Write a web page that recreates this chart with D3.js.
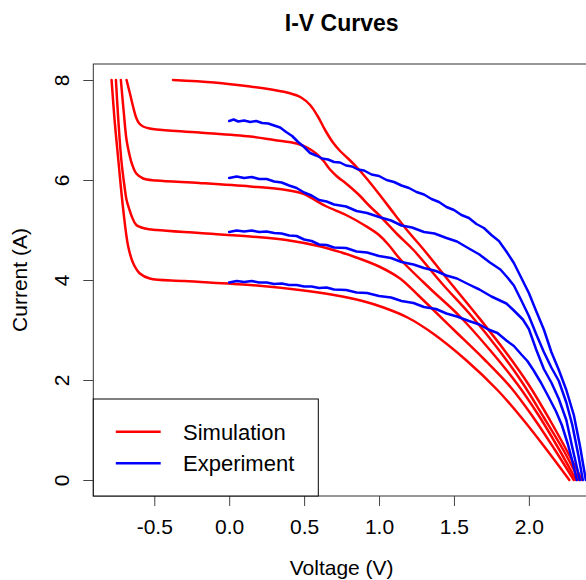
<!DOCTYPE html>
<html><head><meta charset="utf-8">
<script src="https://cdn.jsdelivr.net/npm/d3@7"></script>
<style>
html,body{margin:0;padding:0;background:#fff;}
svg{display:block;font-family:"Liberation Sans",Arial,Helvetica,sans-serif;}
</style></head>
<body>
<svg id="chart" width="586" height="580"></svg>
<script>
// ---- data (Voltage V, Current A) ----
const title = "I-V Curves";
const xLabel = "Voltage (V)";
const yLabel = "Current (A)";
const xTicks = [-0.5, 0.0, 0.5, 1.0, 1.5, 2.0];
const yTicks = [0, 2, 4, 6, 8];
const legendLabels = ["Simulation", "Experiment"];

const sim8 = [[-0.375,8.0],[-0.1,7.95],[0.14,7.87],[0.3,7.8],[0.4,7.74],[0.48,7.65],[0.54,7.5],[0.59,7.28],[0.64,7.0],[0.69,6.76],[0.74,6.58],[0.79,6.44],[0.85,6.26],[0.92,6.02],[1.0,5.72],[1.1,5.33],[1.2,4.95],[1.3,4.6],[1.48,3.93],[1.66,3.27],[1.84,2.58],[2.0,1.9],[2.14,1.2],[2.26,0.55],[2.355,0]];
const sim7 = [[-0.685,8.0],[-0.66,7.7],[-0.64,7.45],[-0.62,7.24],[-0.6,7.13],[-0.574,7.07],[-0.53,7.03],[-0.485,7.01],[-0.2,6.95],[0.14,6.87],[0.3,6.8],[0.45,6.73],[0.52,6.65],[0.58,6.53],[0.63,6.38],[0.67,6.22],[0.72,6.07],[0.78,5.93],[0.86,5.72],[0.94,5.47],[1.0,5.3],[1.12,4.92],[1.23,4.6],[1.42,3.93],[1.62,3.27],[1.8,2.6],[1.96,1.93],[2.1,1.25],[2.23,0.6],[2.335,0]];
const sim6 = [[-0.723,8.0],[-0.705,7.4],[-0.685,6.8],[-0.665,6.5],[-0.65,6.33],[-0.62,6.13],[-0.574,6.03],[-0.485,5.99],[-0.2,5.94],[0.14,5.87],[0.38,5.8],[0.5,5.72],[0.56,5.62],[0.65,5.47],[0.78,5.3],[0.9,5.1],[1.0,4.9],[1.07,4.68],[1.14,4.42],[1.34,3.83],[1.54,3.27],[1.74,2.6],[1.92,1.93],[2.07,1.27],[2.2,0.62],[2.315,0]];
const sim5 = [[-0.756,8.0],[-0.74,7.2],[-0.72,6.4],[-0.7,5.9],[-0.685,5.6],[-0.665,5.4],[-0.65,5.27],[-0.62,5.1],[-0.56,5.03],[-0.485,5.0],[-0.2,4.94],[0.14,4.87],[0.38,4.8],[0.61,4.67],[0.75,4.55],[0.83,4.47],[1.0,4.27],[1.14,4.03],[1.27,3.67],[1.5,3.0],[1.7,2.42],[1.88,1.85],[2.03,1.25],[2.17,0.62],[2.3,0]];
const sim4 = [[-0.785,8.0],[-0.765,7.2],[-0.74,6.4],[-0.707,5.4],[-0.674,4.67],[-0.64,4.33],[-0.596,4.13],[-0.53,4.03],[-0.3,3.98],[0.14,3.9],[0.47,3.8],[0.7,3.7],[0.89,3.58],[1.03,3.45],[1.19,3.25],[1.36,2.93],[1.58,2.4],[1.79,1.8],[1.95,1.25],[2.1,0.68],[2.27,0]];

const exp7 = [[0.0,7.18],[0.03,7.21],[0.06,7.17],[0.1,7.19],[0.14,7.16],[0.18,7.18],[0.22,7.14],[0.26,7.13],[0.3,7.09],[0.34,7.05],[0.38,6.96],[0.42,6.88],[0.46,6.76],[0.5,6.66],[0.54,6.54],[0.58,6.49],[0.62,6.43],[0.66,6.41],[0.7,6.36],[0.74,6.35],[0.78,6.29],[0.82,6.27],[0.86,6.21],[0.9,6.19],[0.95,6.11],[1.0,6.08],[1.05,6.0],[1.1,5.96],[1.15,5.89],[1.2,5.84],[1.25,5.76],[1.3,5.71],[1.35,5.62],[1.4,5.56],[1.45,5.46],[1.5,5.4],[1.55,5.3],[1.6,5.24],[1.65,5.12],[1.7,5.04],[1.75,4.9],[1.8,4.78],[1.85,4.57],[1.9,4.34],[1.95,4.04],[2.0,3.74],[2.05,3.37],[2.1,3.01],[2.15,2.56],[2.2,2.2],[2.25,1.8],[2.3,1.3],[2.34,0.7],[2.38,0]];
const exp6 = [[0.0,6.04],[0.05,6.07],[0.1,6.04],[0.15,6.06],[0.2,6.02],[0.25,6.02],[0.3,5.97],[0.35,5.95],[0.4,5.89],[0.45,5.84],[0.5,5.75],[0.55,5.69],[0.6,5.6],[0.65,5.57],[0.7,5.51],[0.78,5.47],[0.85,5.38],[0.92,5.34],[1.0,5.26],[1.08,5.19],[1.15,5.09],[1.22,5.05],[1.3,4.96],[1.37,4.93],[1.45,4.84],[1.52,4.77],[1.6,4.63],[1.67,4.51],[1.74,4.35],[1.81,4.21],[1.86,4.04],[1.9,3.89],[1.95,3.59],[2.0,3.28],[2.05,2.91],[2.1,2.56],[2.15,2.25],[2.2,1.98],[2.25,1.55],[2.29,1.1],[2.33,0.5],[2.36,0]];
const exp5 = [[0.0,4.96],[0.05,4.99],[0.1,4.97],[0.15,4.99],[0.2,4.96],[0.25,4.97],[0.3,4.94],[0.35,4.93],[0.4,4.89],[0.45,4.88],[0.5,4.81],[0.55,4.78],[0.6,4.71],[0.65,4.7],[0.7,4.65],[0.78,4.64],[0.85,4.57],[0.92,4.55],[1.0,4.48],[1.08,4.44],[1.15,4.36],[1.23,4.31],[1.3,4.24],[1.38,4.18],[1.45,4.09],[1.52,4.03],[1.6,3.91],[1.67,3.81],[1.75,3.67],[1.85,3.53],[1.9,3.39],[1.96,3.21],[2.0,3.02],[2.05,2.6],[2.1,2.22],[2.15,1.95],[2.2,1.62],[2.25,1.2],[2.29,0.65],[2.34,0]];
const exp4 = [[0.0,3.95],[0.05,3.98],[0.1,3.96],[0.15,3.98],[0.2,3.95],[0.25,3.95],[0.3,3.92],[0.35,3.93],[0.4,3.9],[0.45,3.9],[0.5,3.87],[0.55,3.87],[0.6,3.84],[0.65,3.85],[0.7,3.81],[0.78,3.8],[0.85,3.75],[0.92,3.74],[1.0,3.68],[1.08,3.65],[1.15,3.58],[1.23,3.54],[1.3,3.46],[1.38,3.42],[1.45,3.33],[1.52,3.27],[1.6,3.18],[1.67,3.11],[1.73,3.01],[1.79,2.94],[1.85,2.79],[1.9,2.68],[1.95,2.51],[1.99,2.38],[2.03,2.2],[2.08,1.95],[2.13,1.67],[2.18,1.38],[2.22,1.1],[2.26,0.72],[2.29,0.38],[2.32,0]];

const simSeries = [sim8, sim7, sim6, sim5, sim4];
const expSeries = [exp7, exp6, exp5, exp4];

// ---- layout ----
const svg = d3.select("#chart");
const W = 586, H = 580;
const plot = {left: 93.3, right: 590, top: 64, bottom: 496};
const x = d3.scaleLinear().domain([-0.907, 2.408]).range([plot.left, plot.right]);
const y = d3.scaleLinear().domain([-0.32, 8.32]).range([plot.bottom, plot.top]);

svg.append("rect").attr("width", W).attr("height", H).attr("fill", "#fff");

svg.append("defs").append("clipPath").attr("id", "clip")
  .append("rect").attr("x", plot.left).attr("y", plot.top)
  .attr("width", plot.right - plot.left).attr("height", plot.bottom - plot.top);

// curves
const g = svg.append("g").attr("clip-path", "url(#clip)");
const simLine = d3.line().x(d => x(d[0])).y(d => y(d[1])).curve(d3.curveCatmullRom.alpha(0.5));
const expLine = d3.line().x(d => x(d[0])).y(d => y(d[1])).curve(d3.curveLinear);

g.selectAll(".sim").data(simSeries).join("path").attr("class", "sim")
  .attr("d", simLine).attr("fill", "none").attr("stroke", "#ff0000")
  .attr("stroke-width", 2.5).attr("stroke-linejoin", "round").attr("stroke-linecap", "round");
g.selectAll(".exp").data(expSeries).join("path").attr("class", "exp")
  .attr("d", expLine).attr("fill", "none").attr("stroke", "#0000ff")
  .attr("stroke-width", 2.5).attr("stroke-linejoin", "round").attr("stroke-linecap", "round");

// box
svg.append("rect").attr("x", plot.left).attr("y", plot.top)
  .attr("width", plot.right - plot.left).attr("height", plot.bottom - plot.top)
  .attr("fill", "none").attr("stroke", "#333").attr("stroke-width", 1);

// axes
const xAxis = svg.append("g").attr("transform", `translate(0,${plot.bottom})`)
  .call(d3.axisBottom(x).tickValues(xTicks).tickFormat(d3.format(".1f")).tickSize(10).tickPadding(13));
xAxis.select(".domain").remove();
xAxis.selectAll("line").attr("stroke", "#444");
xAxis.selectAll("text").attr("font-size", 21).attr("fill", "#000")
  .attr("font-family", '"Liberation Sans",Arial,sans-serif').text(d => d3.format(".1f")(d).replace("−", "-"));

const yAxis = svg.append("g").attr("transform", `translate(${plot.left},0)`)
  .call(d3.axisLeft(y).tickValues(yTicks).tickFormat(d3.format("d")).tickSize(10));
yAxis.select(".domain").remove();
yAxis.selectAll("line").attr("stroke", "#444");
yAxis.selectAll("text").attr("font-size", 21).attr("fill", "#000")
  .attr("font-family", '"Liberation Sans",Arial,sans-serif')
  .attr("transform", "rotate(-90)").attr("x", 0).attr("y", -24.5).attr("dy", 0)
  .attr("text-anchor", "middle");

// titles
svg.append("text").attr("x", (plot.left + plot.right) / 2).attr("y", 31)
  .attr("text-anchor", "middle").attr("font-size", 23).attr("font-weight", "bold").text(title);
svg.append("text").attr("x", (plot.left + plot.right) / 2).attr("y", 575)
  .attr("text-anchor", "middle").attr("font-size", 21).text(xLabel);
svg.append("text").attr("transform", `translate(27,${(plot.top + plot.bottom) / 2}) rotate(-90)`)
  .attr("text-anchor", "middle").attr("font-size", 21).text(yLabel);

// legend
const leg = svg.append("g");
leg.append("rect").attr("x", plot.left).attr("y", 399).attr("width", 318.3 - plot.left)
  .attr("height", plot.bottom - 399).attr("fill", "#fff").attr("stroke", "#000").attr("stroke-width", 1);
const legColors = ["#ff0000", "#0000ff"];
const legY = [431.7, 463.3];
legendLabels.forEach((lab, i) => {
  leg.append("line").attr("x1", 115.8).attr("x2", 160.7).attr("y1", legY[i]).attr("y2", legY[i])
    .attr("stroke", legColors[i]).attr("stroke-width", 2.5);
  leg.append("text").attr("x", 183).attr("y", legY[i] + 8).attr("font-size", 22).text(lab);
});
</script>
</body></html>
